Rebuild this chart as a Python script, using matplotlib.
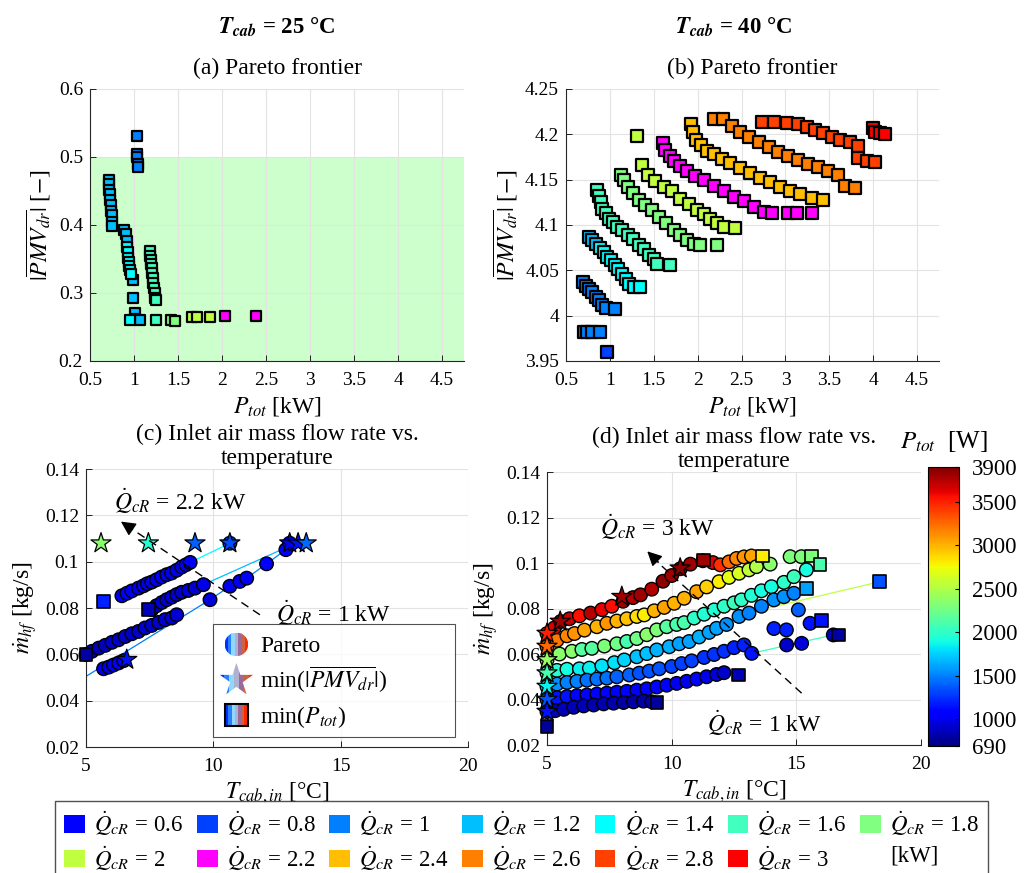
import matplotlib.pyplot as plt
from matplotlib.colors import Normalize
from matplotlib.cm import ScalarMappable
from matplotlib.patches import Patch, PathPatch, Rectangle
from matplotlib.lines import Line2D
from matplotlib.legend_handler import HandlerBase
from matplotlib.markers import MarkerStyle
from matplotlib.ticker import FormatStrFormatter
import matplotlib.transforms as mtransforms

plt.rcParams['font.family'] = 'serif'
plt.rcParams['font.serif'] = ['Liberation Serif', 'DejaVu Serif']
plt.rcParams['mathtext.fontset'] = 'stix'
plt.rcParams['font.size'] = 14

# cooling capacity classes (kW) and their colours
q_vals = [0.6, 0.8, 1.0, 1.2, 1.4, 1.6, 1.8, 2.0, 2.2, 2.4, 2.6, 2.8, 3.0]
q_colors = ['#0000ff', '#0040ff', '#0080ff', '#00bfff', '#00ffff', '#40ffbf', '#80ff80',
            '#bfff40', '#ff00ff', '#ffbf00', '#ff8000', '#ff4000', '#ff0000']
qcol = dict(zip(q_vals, q_colors))

# (a) Pareto frontier, Tcab = 25 C  (one sub-list per Q_cR)
a_q = [1.0, 1.2, 1.4, 1.6, 1.8, 2.0, 2.2]
a_ptot = [[1.03, 1.03, 1.035, 1.04, 1.045],
          [0.715, 0.72, 0.72, 0.725, 0.73, 0.735, 0.74, 0.745, 0.75, 0.755, 0.89, 0.905, 0.915,
           0.99, 0.99, 1.01, 1.015, 1.07],
          [0.92, 0.93, 0.935, 0.94, 0.945, 0.95, 0.96, 0.95],
          [1.18, 1.185, 1.19, 1.195, 1.20, 1.205, 1.21, 1.215, 1.225, 1.235, 1.24, 1.245, 1.255],
          [1.42, 1.46],
          [1.66, 1.71, 1.86],
          [2.03, 2.39]]
a_pmv = [[0.531, 0.505, 0.500, 0.490, 0.485],
         [0.466, 0.460, 0.452, 0.445, 0.437, 0.430, 0.421, 0.414, 0.405, 0.398, 0.393, 0.386, 0.376,
          0.319, 0.292, 0.270, 0.262, 0.260],
         [0.368, 0.360, 0.352, 0.345, 0.340, 0.334, 0.328, 0.260],
         [0.362, 0.355, 0.349, 0.342, 0.336, 0.329, 0.322, 0.315, 0.307, 0.300, 0.293, 0.289, 0.261],
         [0.261, 0.259],
         [0.264, 0.264, 0.264],
         [0.266, 0.266]]

# (b) Pareto frontier, Tcab = 40 C
b_q = [0.8, 1.0, 1.0, 1.2, 1.4, 1.6, 1.8, 2.0, 2.2, 2.4, 2.6, 2.8, 3.0]
b_ptot = [[0.97],
          [0.70, 0.74, 0.80, 0.89],
          [0.697, 0.723, 0.761, 0.799, 0.837, 0.875, 0.913, 0.951, 1.053],
          [0.761, 0.799, 0.837],
          [0.886, 0.932, 0.970, 1.008, 1.053, 1.091, 1.133, 1.178, 1.216, 1.273, 1.348],
          [0.856, 0.875, 0.894, 0.913, 0.951, 0.989, 1.038, 1.083, 1.140, 1.205, 1.265, 1.330,
           1.386, 1.443, 1.500, 1.538, 1.689],
          [1.121, 1.159, 1.205, 1.265, 1.330, 1.405, 1.481, 1.557, 1.644, 1.727, 1.803, 1.879,
           1.955, 2.023, 2.220],
          [1.311, 1.367, 1.432, 1.519, 1.614, 1.708, 1.803, 1.898, 1.992, 2.068, 2.144, 2.220,
           2.295, 2.428],
          [1.606, 1.633, 1.682, 1.735, 1.803, 1.879, 1.973, 2.068, 2.182, 2.295, 2.409, 2.523,
           2.636, 2.750, 2.845, 3.034, 3.129, 3.299],
          [1.924, 1.947, 1.985, 2.038, 2.106, 2.182, 2.277, 2.371, 2.485, 2.598, 2.712, 2.826,
           2.939, 3.053, 3.167, 3.299, 3.432],
          [2.182, 2.288, 2.390, 2.485, 2.580, 2.693, 2.807, 2.920, 3.034, 3.148, 3.261, 3.375,
           3.489, 3.602, 3.678, 3.792],
          [2.731, 2.864, 3.015, 3.148, 3.242, 3.337, 3.432, 3.527, 3.621, 3.735, 3.830, 3.830,
           3.924, 4.019],
          [3.992, 4.019, 4.076, 4.133]]
b_pmv = [[3.960],
         [3.982, 3.982, 3.982, 3.982],
         [4.037, 4.033, 4.029, 4.026, 4.021, 4.017, 4.012, 4.008, 4.007],
         [4.087, 4.083, 4.079],
         [4.075, 4.070, 4.065, 4.061, 4.056, 4.051, 4.046, 4.040, 4.035, 4.032, 4.032],
         [4.139, 4.132, 4.125, 4.118, 4.113, 4.107, 4.103, 4.098, 4.094, 4.089, 4.084, 4.078,
          4.073, 4.067, 4.062, 4.057, 4.056],
         [4.155, 4.150, 4.142, 4.135, 4.128, 4.122, 4.116, 4.109, 4.102, 4.095, 4.089, 4.083,
          4.079, 4.078, 4.078],
         [4.198, 4.166, 4.155, 4.148, 4.142, 4.137, 4.129, 4.123, 4.117, 4.112, 4.107, 4.102,
          4.098, 4.097],
         [4.190, 4.183, 4.176, 4.170, 4.165, 4.160, 4.154, 4.150, 4.143, 4.137, 4.131, 4.126,
          4.120, 4.114, 4.113, 4.113, 4.113, 4.113],
         [4.211, 4.203, 4.194, 4.188, 4.182, 4.178, 4.173, 4.168, 4.163, 4.157, 4.152, 4.147,
          4.142, 4.138, 4.134, 4.130, 4.128],
         [4.217, 4.217, 4.209, 4.202, 4.197, 4.191, 4.186, 4.181, 4.176, 4.172, 4.167, 4.164,
          4.159, 4.155, 4.143, 4.141],
         [4.214, 4.214, 4.213, 4.211, 4.208, 4.205, 4.201, 4.197, 4.194, 4.191, 4.187, 4.174,
          4.171, 4.169],
         [4.207, 4.202, 4.201, 4.200]]

# (c) inlet air mass flow vs temperature, Tcab = 25 C
c_tin = [6.41, 6.61, 6.80, 7.06, 7.26, 7.41, 7.58, 7.77, 7.97, 8.17, 8.36, 8.56, 8.76, 8.93, 9.09,
         7.58, 7.77, 7.98, 8.17, 8.37, 8.56, 8.76, 9.02, 9.28, 9.61,
         5.0, 5.23, 5.50, 5.76, 6.02, 6.28, 6.54, 6.80, 7.06, 7.32, 7.58, 7.85, 8.11, 8.37, 8.56,
         5.69, 5.89, 6.08, 6.28, 6.48,
         9.87, 10.65, 11.04, 11.31, 12.09, 12.85, 10.65, 13.0]
c_mhf = [0.0853, 0.0864, 0.0874, 0.0886, 0.0896, 0.0905, 0.0912, 0.0922, 0.0934, 0.0944, 0.0951,
         0.0963, 0.0977, 0.0987, 0.0997,
         0.0793, 0.0810, 0.0824, 0.0836, 0.0847, 0.0858, 0.0868, 0.0876, 0.0886, 0.0901,
         0.0599, 0.0613, 0.0627, 0.0639, 0.0652, 0.0663, 0.0677, 0.0689, 0.0699, 0.0714, 0.0725,
         0.0738, 0.0750, 0.0757, 0.0771,
         0.0538, 0.0545, 0.0554, 0.0563, 0.0573,
         0.0836, 0.0894, 0.0915, 0.0929, 0.0991, 0.1052, 0.1080, 0.1080]
c_ptot = [1000, 1050, 1020, 1000, 1050, 1000, 980, 1000, 1020, 1000, 980, 1000, 980, 1000, 1020,
          850, 900, 920, 900, 950, 920, 900, 950, 920, 980,
          800, 850, 860, 870, 900, 880, 900, 880, 900, 920, 900, 880, 920, 900, 940,
          1000, 980, 1000, 1000, 1050,
          950, 1000, 1000, 1020, 1050, 1050, 1300, 1050]
c_star_t = [5.59, 7.45, 9.28, 10.65, 13.0, 13.33, 13.65, 6.6]
c_star_m = [0.108, 0.108, 0.108, 0.108, 0.108, 0.108, 0.108, 0.0577]
c_star_p = [2350, 1950, 1400, 1330, 1100, 1150, 1420, 1150]
c_sq_t = [5.69, 7.45, 5.0]
c_sq_m = [0.0829, 0.0793, 0.060]
c_sq_p = [1200, 850, 800]
c_lines = [(1.4, [9.09, 10.65], [0.0997, 0.108]),
           (1.2, [9.61, 12.9], [0.0901, 0.1063]),
           (1.0, [5.0, 9.87, 10.65, 11.31, 12.09, 12.85, 13.0], [0.0505, 0.0836, 0.0894, 0.0929, 0.0991, 0.1052, 0.108])]

# (d) inlet air mass flow vs temperature, Tcab = 40 C  (one sub-list per band)
d_tin = [[5.0, 5.3, 5.55, 5.9, 6.3, 6.75, 7.2, 7.6, 8.05, 8.45, 8.75, 9.2, 9.65, 10.0, 10.35, 10.75,
          11.25, 11.65, 11.95, 12.3, 12.6, 12.9, 13.2],
         [5.0, 5.4, 5.8, 6.1, 6.5, 7.0, 7.4, 7.8, 8.2, 8.6, 8.9, 9.3, 9.7, 10.1, 10.5, 11.0, 11.4,
          11.9, 12.3, 12.7, 13.1, 13.4, 13.95, 14.75, 15.2],
         [5.0, 5.5, 6.0, 6.4, 6.8, 7.3, 7.8, 8.2, 8.6, 9.0, 9.4, 9.8, 10.2, 10.5, 10.9, 11.3, 11.7,
          12.1, 12.5, 12.8, 13.2, 13.6, 14.0, 14.5, 14.9, 15.4],
         [5.0, 5.4, 5.8, 6.3, 6.7, 7.2, 7.7, 8.1, 8.6, 9.0, 9.4, 9.9, 10.3, 10.7, 11.1, 11.5, 11.8,
          12.2, 12.7, 13.1, 13.6, 14.1, 14.5, 14.9],
         [5.0, 5.4, 5.8, 6.2, 6.6, 7.0, 7.4, 7.8, 8.3, 8.7, 9.1, 9.5, 10.0, 10.4, 10.8, 11.3, 11.7,
          12.1, 12.5, 12.9],
         [5.0, 5.4, 5.8, 6.2, 6.6, 7.0, 7.4, 7.8, 8.2, 8.6, 9.0, 9.4, 9.8, 10.2, 10.6, 11.0, 11.4,
          11.8, 12.1],
         [5.0, 5.33, 5.67, 6.07, 6.47, 6.87, 7.27, 7.67, 8.07, 8.47, 8.87, 9.2],
         [13.21, 14.1, 14.6, 15.08, 15.55, 14.61, 15.21, 16.48]]
d_mhf = [[0.069, 0.0715, 0.0743, 0.0755, 0.0768, 0.078, 0.0795, 0.081, 0.0832, 0.0848, 0.086,
          0.0885, 0.092, 0.0945, 0.0975, 0.0995, 0.1010, 0.1002, 0.0992, 0.1005, 0.102, 0.1027, 0.1031],
         [0.0633, 0.066, 0.068, 0.069, 0.0705, 0.072, 0.0735, 0.0745, 0.0755, 0.0765, 0.0772, 0.079,
          0.0805, 0.0823, 0.0845, 0.0874, 0.0895, 0.0918, 0.0937, 0.0955, 0.097, 0.0984, 0.0995,
          0.1028, 0.1028],
         [0.0574, 0.060, 0.0612, 0.062, 0.0625, 0.0635, 0.0645, 0.0655, 0.0668, 0.0685, 0.0706, 0.072,
          0.073, 0.0738, 0.0758, 0.0775, 0.0794, 0.081, 0.0825, 0.0838, 0.0858, 0.0878, 0.0896,
          0.0915, 0.094, 0.097],
         [0.0516, 0.0528, 0.0533, 0.0535, 0.0538, 0.0548, 0.0562, 0.0574, 0.0588, 0.0602, 0.0618,
          0.0632, 0.0645, 0.0655, 0.0675, 0.0695, 0.0713, 0.073, 0.0765, 0.078, 0.081, 0.0838,
          0.0852, 0.0867],
         [0.0457, 0.0468, 0.0475, 0.0480, 0.0485, 0.0490, 0.0494, 0.050, 0.0508, 0.0516, 0.0525,
          0.0535, 0.0545, 0.0558, 0.057, 0.0585, 0.0598, 0.0612, 0.0628, 0.064],
         [0.040, 0.0408, 0.0413, 0.0417, 0.0420, 0.0424, 0.0428, 0.0432, 0.0436, 0.0441, 0.0447,
          0.0455, 0.0463, 0.0471, 0.0480, 0.0490, 0.0500, 0.0510, 0.0518],
         [0.0347, 0.0351, 0.0357, 0.0366, 0.0372, 0.0376, 0.0381, 0.0384, 0.0387, 0.0390, 0.0393, 0.0390],
         [0.0603, 0.0712, 0.0706, 0.0794, 0.0735, 0.0640, 0.0647, 0.0684]]
d_ptot = [[3500, 3650, 3800, 3700, 3550, 3750, 3600, 3550, 3800, 3750, 3800, 3750, 3850, 3800, 3850,
           3800, 3850, 3600, 3450, 3250, 3150, 3100, 3050],
          [3250, 3200, 3150, 3100, 3050, 3000, 3100, 3000, 2950, 2850, 2800, 3000, 3050, 3000, 3000,
           3050, 2900, 2800, 2700, 2650, 2550, 2500, 2350, 2300, 2300],
          [2400, 2350, 2350, 2150, 2150, 2300, 2250, 2100, 2250, 2350, 2300, 2150, 2100, 2100, 2000,
           1950, 1950, 2000, 2050, 2000, 1950, 1900, 1900, 2000, 2050, 1900],
          [2100, 1950, 1900, 1850, 1850, 1800, 1800, 1750, 1700, 1700, 1650, 1650, 1600, 1600, 1650,
           1600, 1600, 1550, 1550, 1500, 1500, 1550, 1550, 1500],
          [1850, 1550, 1500, 1500, 1450, 1450, 1450, 1400, 1400, 1350, 1350, 1350, 1300, 1300, 1300,
           1250, 1250, 1250, 1200, 1200],
          [1350, 1150, 1150, 1100, 1100, 1100, 1100, 1050, 1050, 1050, 1100, 1050, 1050, 1000, 1000,
           1050, 1000, 950, 900],
          [1150, 900, 850, 850, 850, 820, 820, 820, 800, 800, 800, 800],
          [1150, 1200, 1200, 1400, 1150, 900, 950, 850]]
d_star_t = [5.0, 5.0, 5.0, 5.0, 5.0, 5.0, 5.0, 5.53, 8.0, 10.34]
d_star_m = [0.069, 0.0633, 0.0574, 0.0516, 0.0457, 0.040, 0.0347, 0.0743, 0.0852, 0.0977]
d_star_p = [3500, 3250, 2400, 2100, 1850, 1350, 1150, 3800, 3800, 3850]
d_sq_t = [5.0, 9.41, 11.27, 13.65, 15.61, 15.95, 15.41, 16.01, 16.68, 12.68, 18.35]
d_sq_m = [0.0281, 0.0388, 0.1013, 0.1031, 0.1031, 0.0992, 0.0889, 0.0746, 0.0684, 0.0508, 0.0918]
d_sq_p = [760, 780, 3800, 2800, 2300, 2100, 1600, 1150, 800, 850, 1350]
d_lines = [(2.6, [5.0, 6.3, 8.05, 9.65, 10.35], [0.069, 0.0768, 0.0832, 0.092, 0.0975]),
           (2.0, [13.28, 18.35], [0.0787, 0.0918]),
           (1.6, [13.21, 16.48], [0.0603, 0.0684])]

norm = Normalize(690, 3900)
cmap = plt.get_cmap('jet')


class GradientMarker(HandlerBase):
    # legend marker filled with a left-to-right colour gradient
    def __init__(self, marker, colors, size, edge):
        super().__init__()
        self.marker = marker
        self.colors = colors
        self.size = size
        self.edge = edge

    def create_artists(self, legend, orig_handle, xdescent, ydescent, width, height, fontsize, trans):
        ms = MarkerStyle(self.marker)
        path = ms.get_path().transformed(ms.get_transform())
        cx = width / 2 - xdescent
        cy = height / 2 - ydescent
        s = self.size
        p = path.transformed(mtransforms.Affine2D().scale(s).translate(cx, cy))
        clip = PathPatch(p, transform=trans)
        arts = []
        n = len(self.colors)
        for i, c in enumerate(self.colors):
            r = Rectangle((cx - s / 2 + i * s / n, cy - s / 2), s / n + 0.2, s,
                          facecolor=c, edgecolor='none', transform=trans)
            r.set_clip_path(clip)
            arts.append(r)
        if self.edge:
            arts.append(PathPatch(p, facecolor='none', edgecolor='k', lw=1.5, transform=trans))
        return arts


def style_axes(ax):
    ax.spines['top'].set_visible(False)
    ax.spines['right'].set_visible(False)
    for sp in ['left', 'bottom']:
        ax.spines[sp].set_color('#262626')
        ax.spines[sp].set_linewidth(0.8)
    ax.tick_params(direction='in', length=4, width=0.6, labelsize=14)
    ax.tick_params(axis='x', pad=8)
    ax.tick_params(axis='y', pad=5)
    ax.grid(True, color='#e3e3e3', lw=0.8)
    ax.set_axisbelow(True)
    ax.xaxis.set_major_formatter(FormatStrFormatter('%g'))
    ax.yaxis.set_major_formatter(FormatStrFormatter('%g'))


fig = plt.figure(figsize=(10.35, 8.73), dpi=100)
ax_a = fig.add_axes([0.087, 0.5865, 0.3614, 0.3116])
ax_b = fig.add_axes([0.5469, 0.5865, 0.3604, 0.3116])
ax_c = fig.add_axes([0.0831, 0.1443, 0.3690, 0.3184])
ax_d = fig.add_axes([0.5285, 0.1466, 0.3614, 0.3127])
cax = fig.add_axes([0.8966, 0.1455, 0.0300, 0.3196])

# (a)
ax_a.axhspan(0.2, 0.5, color='#ccffcc', zorder=0.2, lw=0)
for q, xs, ys in zip(a_q, a_ptot, a_pmv):
    ax_a.scatter(xs, ys, marker='s', s=62, c=qcol[q], edgecolors='k', linewidths=1.6, zorder=3)
ax_a.set_xlim(0.5, 4.75)
ax_a.set_ylim(0.2, 0.6)
ax_a.set_xticks([0.5, 1, 1.5, 2, 2.5, 3, 3.5, 4, 4.5])
ax_a.set_yticks([0.2, 0.3, 0.4, 0.5, 0.6])

# (b)
for q, xs, ys in zip(b_q, b_ptot, b_pmv):
    ax_b.scatter(xs, ys, marker='s', s=75, c=qcol[q], edgecolors='k', linewidths=1.6, zorder=3)
ax_b.set_xlim(0.5, 4.75)
ax_b.set_ylim(3.95, 4.25)
ax_b.set_xticks([0.5, 1, 1.5, 2, 2.5, 3, 3.5, 4, 4.5])
ax_b.set_yticks([3.95, 4, 4.05, 4.1, 4.15, 4.2, 4.25])

for ax, lab in [(ax_a, '(a)'), (ax_b, '(b)')]:
    style_axes(ax)
    ax.set_title(lab + ' Pareto frontier', fontsize=17, pad=11)
    ax.set_xlabel(r'$P_{tot}$ [kW]', fontsize=17, labelpad=4)
    ax.set_ylabel(r'$|\overline{PMV_{dr}}|$ [$-$]', fontsize=17, labelpad=4)

# (c)
for q, xs, ys in c_lines:
    ax_c.plot(xs, ys, color=qcol[q], lw=0.9, zorder=2)
ax_c.scatter(c_tin, c_mhf, c=c_ptot, cmap=cmap, norm=norm, s=95, edgecolors='k', linewidths=1.0,
             zorder=3, clip_on=False)
ax_c.scatter(c_sq_t, c_sq_m, c=c_sq_p, cmap=cmap, norm=norm, marker='s', s=85, edgecolors='k',
             linewidths=1.2, zorder=4, clip_on=False)
ax_c.scatter(c_star_t, c_star_m, c=c_star_p, cmap=cmap, norm=norm, marker='*', s=230, edgecolors='k',
             linewidths=0.9, zorder=4, clip_on=False)
ax_c.plot([11.83, 6.75], [0.0771, 0.1145], color='k', ls=(0, (6, 4)), lw=1.0, zorder=5)
ax_c.annotate('', xy=(6.28, 0.118), xytext=(6.9, 0.1134),
              arrowprops=dict(arrowstyle='-|>', color='k', lw=1.0, mutation_scale=22), zorder=5)
ax_c.text(6.08, 0.126, r'$\dot{Q}_{cR}$ = 2.2 kW', fontsize=17, va='center', ha='left')
ax_c.text(12.48, 0.0775, r'$\dot{Q}_{cR}$ = 1 kW', fontsize=17, va='center', ha='left')

# (d)
for q, xs, ys in d_lines:
    ax_d.plot(xs, ys, color=qcol[q], lw=0.9, zorder=2)
for xs, ys, ps in zip(d_tin, d_mhf, d_ptot):
    ax_d.scatter(xs, ys, c=ps, cmap=cmap, norm=norm, s=95, edgecolors='k', linewidths=1.0,
                 zorder=3, clip_on=False)
ax_d.scatter(d_sq_t, d_sq_m, c=d_sq_p, cmap=cmap, norm=norm, marker='s', s=85, edgecolors='k',
             linewidths=1.2, zorder=4, clip_on=False)
ax_d.scatter(d_star_t, d_star_m, c=d_star_p, cmap=cmap, norm=norm, marker='*', s=230, edgecolors='k',
             linewidths=0.9, zorder=4, clip_on=False)
ax_d.plot([15.21, 9.4], [0.0428, 0.1007], color='k', ls=(0, (6, 4)), lw=1.0, zorder=5)
ax_d.annotate('', xy=(8.94, 0.106), xytext=(9.55, 0.0995),
              arrowprops=dict(arrowstyle='-|>', color='k', lw=1.0, mutation_scale=22), zorder=5)
ax_d.text(7.14, 0.1157, r'$\dot{Q}_{cR}$ = 3 kW', fontsize=17, va='center', ha='left')
ax_d.text(11.41, 0.0293, r'$\dot{Q}_{cR}$ = 1 kW', fontsize=17, va='center', ha='left')

for ax, lab in [(ax_c, '(c)'), (ax_d, '(d)')]:
    style_axes(ax)
    ax.set_xlim(5, 20)
    ax.set_ylim(0.02, 0.14)
    ax.set_xticks([5, 10, 15, 20])
    ax.set_yticks([0.02, 0.04, 0.06, 0.08, 0.1, 0.12, 0.14])
    ax.set_title(lab + ' Inlet air mass flow rate vs.\ntemperature', fontsize=17, pad=1, linespacing=1.2)
    ax.set_xlabel(r'$T_{cab,in}$ [°C]', fontsize=17, labelpad=4)
    ax.set_ylabel(r'$\dot{m}_{hf}$ [kg/s]', fontsize=17, labelpad=4)

# marker legend in (c)
h_par, h_star, h_sq = Line2D([], []), Line2D([], []), Line2D([], [])
grad = ['#0030ff', '#2a7fff', '#8fd8ff', '#b0b0d0', '#9a6a9a', '#d06040', '#ff2a00']
leg = ax_c.legend([h_par, h_star, h_sq],
                  ['Pareto', r'min($|\overline{PMV_{dr}}|$)', r'min($P_{tot}$)'],
                  handler_map={h_par: GradientMarker('o', grad, 17, False),
                               h_star: GradientMarker('*', grad, 25, False),
                               h_sq: GradientMarker('s', grad, 16, True)},
                  loc='lower left', bbox_to_anchor=(0.332, 0.036, 0.634, 0.392), mode='expand',
                  borderaxespad=0, fontsize=17, frameon=True, fancybox=False, edgecolor='#262626',
                  handlelength=1.4, handleheight=1.3, labelspacing=0.3, borderpad=0.3,
                  handletextpad=0.3)
leg.get_frame().set_linewidth(0.8)

# colorbar
sm = ScalarMappable(norm=norm, cmap=cmap)
cb = fig.colorbar(sm, cax=cax, ticks=[690, 1000, 1500, 2000, 2500, 3000, 3500, 3900])
cb.ax.tick_params(labelsize=16.5, direction='in', length=3, pad=9)
cb.outline.set_linewidth(0.8)
cax.set_title(r'$P_{tot}$  [W]', fontsize=18, pad=14)

# column headers
fig.text(277 / 1035, 1 - 26 / 873, r'$\mathbfit{T}_{\mathbfit{cab}}$ = 25 °C', fontsize=16.5,
         fontweight='bold', ha='center', va='center')
fig.text(734 / 1035, 1 - 26 / 873, r'$\mathbfit{T}_{\mathbfit{cab}}$ = 40 °C', fontsize=16.5,
         fontweight='bold', ha='center', va='center')

# bottom legend, filled row by row
labels = [r'$\dot{Q}_{cR}$ = %g' % q for q in q_vals] + ['[kW]']
handles = [Patch(facecolor=c, edgecolor='none') for c in q_colors] + [Patch(facecolor='none', edgecolor='none')]
order = []
for col in range(7):
    order += [col, col + 7]
fig.legend([handles[i] for i in order], [labels[i] for i in order], ncol=7,
           loc='upper center', bbox_to_anchor=(0.504, 1 - 801 / 873), borderaxespad=0,
           fontsize=16.5, frameon=True, fancybox=False, edgecolor='#262626', handlelength=0.9,
           handleheight=0.8, handletextpad=0.4, columnspacing=0.6, labelspacing=0.28,
           borderpad=0.4)

fig.savefig('out.png', dpi=100)
